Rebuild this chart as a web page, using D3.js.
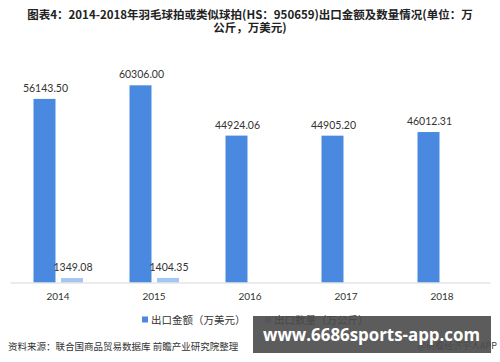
<!DOCTYPE html>
<html>
<head>
<meta charset="utf-8">
<script src="https://cdn.jsdelivr.net/npm/d3@7"></script>
<style>
  body { margin: 0; background: #fff; }
  text { font-family: "Noto Sans CJK SC", "Liberation Sans", sans-serif; }
</style>
</head>
<body>
<div id="chart"></div>
<script>
// Data
const years = ['2014', '2015', '2016', '2017', '2018']
const exportValue = [56143.50, 60306.00, 44924.06, 44905.20, 46012.31]
const exportQty = [1349.08, 1404.35, null, null, null]
const seriesNames = ['出口金额（万美元）', '出口数量（万公斤）']
const titleLines = ['图表4：2014-2018年羽毛球拍或类似球拍(HS：950659)出口金额及数量情况(单位：万', '公斤，万美元)']

const colors = ['#4a89e0', '#a3c6f2']

const dimensions = { width: 500, height: 362 }

const svg = d3.select('#chart')
  .append('svg')
  .attr('width', dimensions.width)
  .attr('height', dimensions.height)

// Title
svg.append('g')
  .selectAll('text')
  .data(titleLines)
  .join('text')
  .attr('x', 250)
  .attr('y', (d, i) => 19 + i * 12.5)
  .attr('text-anchor', 'middle')
  .attr('font-size', 11.5)
  .attr('font-weight', 'bold')
  .attr('fill', '#222')
  .text(d => d)

// Scales
const baseline = 282.5
const x0 = d3.scaleBand().domain(years).range([10, 490])
const x1 = d3.scaleBand().domain([0, 1]).range([23.5, 73]).paddingInner(0.2)
const y = d3.scaleLinear().domain([0, 60306]).range([baseline, 85.3])

const rows = years.map((yr, i) => ({ year: yr, vals: [exportValue[i], exportQty[i]] }))

const groups = svg.append('g')
  .selectAll('g')
  .data(rows)
  .join('g')
  .attr('transform', d => `translate(${x0(d.year)},0)`)

const bars = groups.selectAll('g')
  .data(d => d.vals.map((v, k) => ({ v, k })).filter(e => e.v != null))
  .join('g')

bars.append('rect')
  .attr('x', d => x1(d.k))
  .attr('y', d => y(d.v))
  .attr('width', x1.bandwidth())
  .attr('height', d => baseline - y(d.v))
  .attr('fill', d => colors[d.k])

bars.append('text')
  .attr('x', d => x1(d.k) + x1.bandwidth() / 2 + 1)
  .attr('y', d => y(d.v) - 7)
  .attr('text-anchor', 'middle')
  .attr('font-size', 10.5)
  .attr('fill', '#333')
  .style('font-family', 'Lato, "Liberation Sans", sans-serif')
  .text(d => d.v.toFixed(2))

// Axis
const xAxis = d3.axisBottom(x0).tickSize(0).tickPadding(10)
const axisG = svg.append('g')
  .attr('transform', `translate(0,${baseline})`)
  .call(xAxis)
axisG.select('.domain').attr('stroke', '#d9d9d9')
axisG.selectAll('text')
  .attr('font-size', 10)
  .attr('fill', '#333')
  .style('font-family', 'Lato, "Liberation Sans", sans-serif')

// Legend
const legendX = [142, 265]
const legend = svg.append('g')
  .selectAll('g')
  .data(seriesNames)
  .join('g')
  .attr('transform', (d, i) => `translate(${legendX[i]},320)`)
legend.append('rect')
  .attr('x', 0).attr('y', -3.5)
  .attr('width', 6).attr('height', 6)
  .attr('fill', (d, i) => colors[i])
legend.append('text')
  .attr('x', 9).attr('y', 4)
  .attr('font-size', 10.5)
  .attr('fill', '#333')
  .text(d => d)

// Source
svg.append('text')
  .attr('x', 8).attr('y', 350)
  .attr('font-size', 9.5)
  .attr('fill', '#333')
  .text('资料来源：联合国商品贸易数据库 前瞻产业研究院整理')

svg.append('text')
  .attr('x', 497).attr('y', 349)
  .attr('text-anchor', 'end')
  .attr('font-size', 9)
  .attr('fill', '#444')
  .text('@前瞻经济学人APP')

// Overlay banner
svg.append('rect')
  .attr('x', 253).attr('y', 316)
  .attr('width', 238).attr('height', 37)
  .attr('fill', '#4a4a4a')
  .attr('opacity', 0.9)
svg.append('text')
  .attr('x', 263).attr('y', 341)
  .attr('font-size', 17)
  .attr('font-weight', 'bold')
  .attr('fill', '#fff')
  .attr('textLength', 217)
  .attr('lengthAdjust', 'spacingAndGlyphs')
  .style('font-family', '"Open Sans", "DejaVu Sans", sans-serif')
  .text('www.6686sports-app.com')
</script>
</body>
</html>
